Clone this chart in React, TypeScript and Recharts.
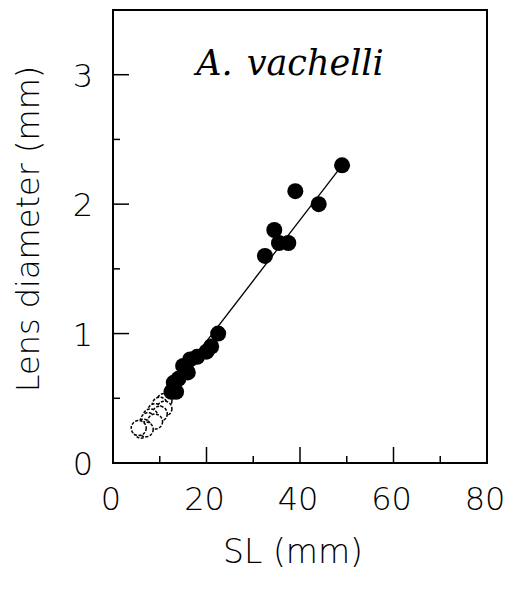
import React from "react";
import { ComposedChart, Scatter, XAxis, YAxis, Label, ReferenceArea } from "recharts";

// filled circles
const filledSL = [49, 39, 44, 34.5, 35.5, 37.5, 32.5, 22.5, 21, 20, 18, 16.5, 15, 16, 14, 13, 13.5, 12.5];
const filledLens = [2.3, 2.1, 2.0, 1.8, 1.7, 1.7, 1.6, 1.0, 0.9, 0.86, 0.82, 0.8, 0.75, 0.7, 0.65, 0.62, 0.55, 0.55];

// open circles
const openSL = [11, 10, 11, 9, 10, 8, 7.5, 9, 6.5, 6, 7, 5.5];
const openLens = [0.48, 0.45, 0.42, 0.4, 0.38, 0.36, 0.33, 0.32, 0.28, 0.25, 0.26, 0.27];

// fitted line ends
const fitSL = [5.5, 49];
const fitLens = [0.26, 2.3];

const xTicks = [0, 10, 20, 30, 40, 50, 60, 70, 80];
const yTicks = [0, 0.5, 1, 1.5, 2, 2.5, 3];

const filled = filledSL.map((x, i) => ({ x, y: filledLens[i] }));
const open = openSL.map((x, i) => ({ x, y: openLens[i] }));
const fit = fitSL.map((x, i) => ({ x, y: fitLens[i] }));

const FONT = "'DejaVu Sans', sans-serif";

const XTick = (props: any) => {
  const { x, y, payload } = props;
  const major = payload.value % 20 === 0;
  return (
    <g>
      <line x1={x} x2={x} y1={y} y2={y - (major ? 16 : 7)} stroke="#000" strokeWidth={1.5} />
      {major && (
        <text x={x - 2} y={y + 47} textAnchor="middle" fontSize={32} fontWeight={200} fontFamily={FONT} fill="#000">
          {payload.value}
        </text>
      )}
    </g>
  );
};

const YTick = (props: any) => {
  const { x, y, payload } = props;
  const major = Number.isInteger(payload.value);
  return (
    <g>
      <line x1={x} x2={x + (major ? 16 : 7)} y1={y} y2={y} stroke="#000" strokeWidth={1.5} />
      {major && (
        <text x={x - 20} y={y + 12} textAnchor="end" fontSize={32} fontWeight={200} fontFamily={FONT} fill="#000">
          {payload.value}
        </text>
      )}
    </g>
  );
};

const Dot = (props: any) => <circle cx={props.cx} cy={props.cy} r={8} fill="#000" />;
const OpenDot = (props: any) => (
  <circle cx={props.cx} cy={props.cy} r={7.5} fill="#fff" stroke="#000" strokeWidth={1.5} strokeDasharray="3 1.5" />
);
const NoDot = () => <g />;

export default function App() {
  return (
    <ComposedChart width={503} height={581} margin={{ top: 2, right: 24, bottom: 0, left: 0 }}>
      <XAxis
        dataKey="x"
        type="number"
        domain={[0, 80]}
        ticks={xTicks}
        tick={<XTick />}
        tickSize={0}
        tickMargin={0}
        height={126}
        axisLine={{ stroke: "#000", strokeWidth: 2 }}
        tickLine={false}
        interval={0}
      >
        <Label
          content={() => (
            <text x={285} y={555} textAnchor="middle" fontSize={33} fontWeight={200} fontFamily={FONT} fill="#000">
              SL (mm)
            </text>
          )}
        />
      </XAxis>
      <YAxis
        dataKey="y"
        type="number"
        domain={[0, 3.5]}
        ticks={yTicks}
        tick={<YTick />}
        tickSize={0}
        tickMargin={0}
        width={105}
        axisLine={{ stroke: "#000", strokeWidth: 2 }}
        tickLine={false}
        interval={0}
      >
        <Label
          content={() => (
            <text
              x={0}
              y={0}
              transform="translate(31 221) rotate(-90)"
              textAnchor="middle"
              fontSize={32}
              fontWeight={200}
              fontFamily={FONT}
              fill="#000"
            >
              Lens diameter (mm)
            </text>
          )}
        />
      </YAxis>
      <ReferenceArea x1={0} x2={80} y1={0} y2={3.5} fill="none" stroke="#000" strokeWidth={2} fillOpacity={0}>
        <Label
          content={() => (
            <text x={282} y={67} textAnchor="middle" fontSize={35} fontStyle="italic" fontFamily="'DejaVu Serif', serif" fill="#000">
              <tspan>A.</tspan>
              <tspan dx={14}>vachelli</tspan>
            </text>
          )}
        />
      </ReferenceArea>
      <Scatter data={fit} shape={<NoDot />} line={{ stroke: "#000", strokeWidth: 1.3 }} isAnimationActive={false} />
      <Scatter data={open} shape={<OpenDot />} isAnimationActive={false} />
      <Scatter data={filled} shape={<Dot />} isAnimationActive={false} />
    </ComposedChart>
  );
}
